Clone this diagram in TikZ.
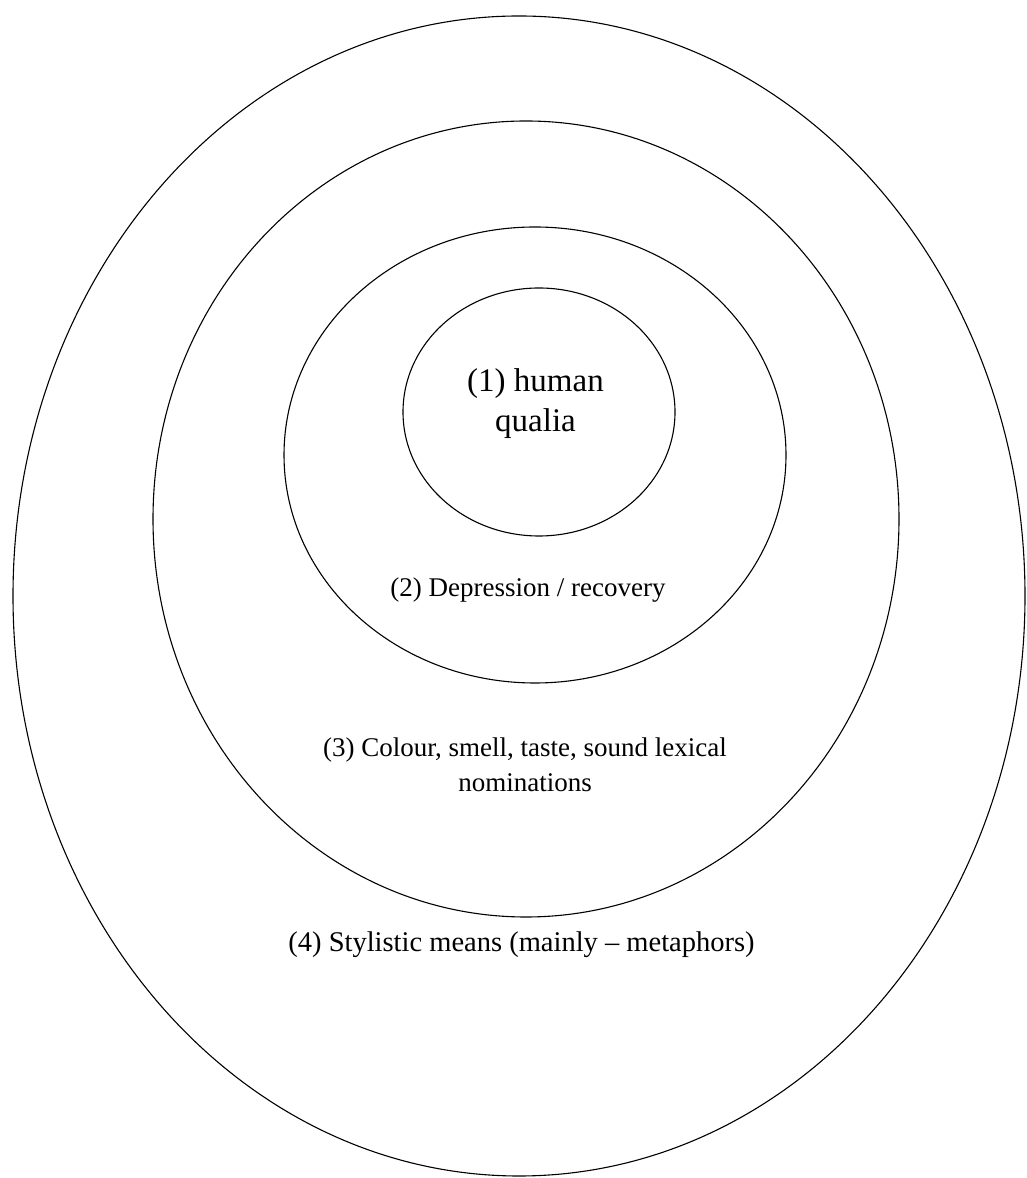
\documentclass[tikz,border=0pt]{standalone}
\usepackage{fontspec}
\setmainfont{Liberation Serif}
\usetikzlibrary{shapes.geometric}
\begin{document}
\begin{tikzpicture}[x=1pt,y=1pt,
  ring/.style={draw, ellipse, line width=1.1pt, inner sep=0pt},
  lab/.style={align=center, inner sep=0pt}]
\useasboundingbox (0,0) rectangle (1026,1178);
% y_tikz = 1178 - y_img
\node[ring, minimum width=1012pt, minimum height=1160pt] (e4) at (519,582) {};
\node[ring, minimum width=746pt, minimum height=796pt] (e3) at (526,659) {};
\node[ring, minimum width=502pt, minimum height=456pt] (e2) at (535,723) {};
\node[ring, minimum width=272pt, minimum height=248pt] (e1) at (539,766) {};
\node[lab, font=\fontsize{33}{40}\selectfont] (t1) at (535.5,774) {(1) human\\qualia};
\node[lab, font=\fontsize{27}{35}\selectfont] (t2) at (528,588) {(2) Depression / recovery};
\node[lab, font=\fontsize{27}{35}\selectfont] (t3) at (525,413) {(3) Colour, smell, taste, sound lexical\\nominations};
\node[lab, font=\fontsize{28.5}{35}\selectfont] (t4) at (521.5,233) {(4) Stylistic means (mainly -- metaphors)};
\end{tikzpicture}
\end{document}
